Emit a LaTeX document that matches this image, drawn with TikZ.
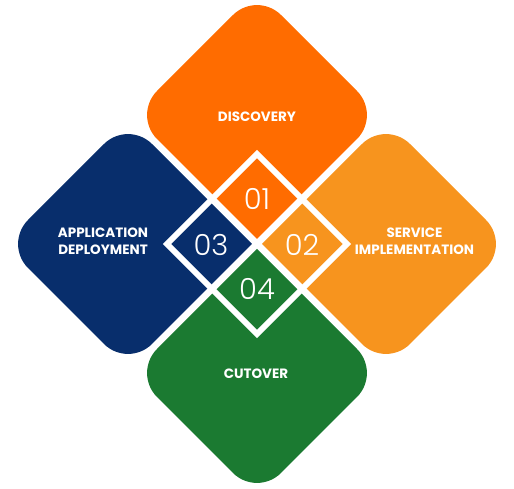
\documentclass[tikz,border=0pt]{standalone}
\usepackage{fontspec}
\setmainfont{Poppins}
\newfontfamily\numfont{Poppins Light}
\definecolor{discovery}{HTML}{FF6C00}
\definecolor{service}{HTML}{F7941E}
\definecolor{application}{HTML}{082E6C}
\definecolor{cutover}{HTML}{1B7A31}

\begin{document}
\begin{tikzpicture}[x=1pt,y=1pt,
	tilename/.style={text=white,font=\bfseries\fontsize{13.5}{17}\selectfont,align=center},
	tilenum/.style={text=white,font=\numfont\fontsize{29}{29}\selectfont}]

\def\off{129}
\def\R{124}
\def\rc{34pt}
\def\f{90}

\useasboundingbox (-257,-245) rectangle (257,244);

% the four big tiles, sharp at the centre
\fill[discovery] (0,{\off-\R}) [rounded corners=\rc] -- ({-\R},\off)
	-- (0,{\off+\R}) -- (\R,\off) -- (0,{\off-\R});
\fill[service] ({\off-\R},0) [rounded corners=\rc] -- (\off,\R)
	-- ({\off+\R},0) -- (\off,-\R) -- ({\off-\R},0);
\fill[application] ({\R-\off},0) [rounded corners=\rc] -- (-\off,\R)
	-- ({-\off-\R},0) -- (-\off,-\R) -- ({\R-\off},0);
\fill[cutover] (0,{\R-\off}) [rounded corners=\rc] -- ({-\R},-\off)
	-- (0,{-\off-\R}) -- (\R,-\off) -- (0,{\R-\off});

\draw[white,line width=6pt,line join=miter] (0,\f) -- (\f,0) -- (0,-\f) -- (-\f,0) -- cycle;

\node[tilename] (disc) at (0,127) {DISCOVERY};
\node[tilename] (serv) at (157.5,3) {SERVICE\\IMPLEMENTATION};
\node[tilename] (appl) at (-154,3) {APPLICATION\\DEPLOYMENT};
\node[tilename] (cut) at (-1,-130) {CUTOVER};

\node[tilenum] (n1) at (0,45.5) {01};
\node[tilenum] (n2) at (45,-1) {02};
\node[tilenum] (n3) at (-46,-1) {03};
\node[tilenum] (n4) at (0,-45) {04};

\end{tikzpicture}
\end{document}
